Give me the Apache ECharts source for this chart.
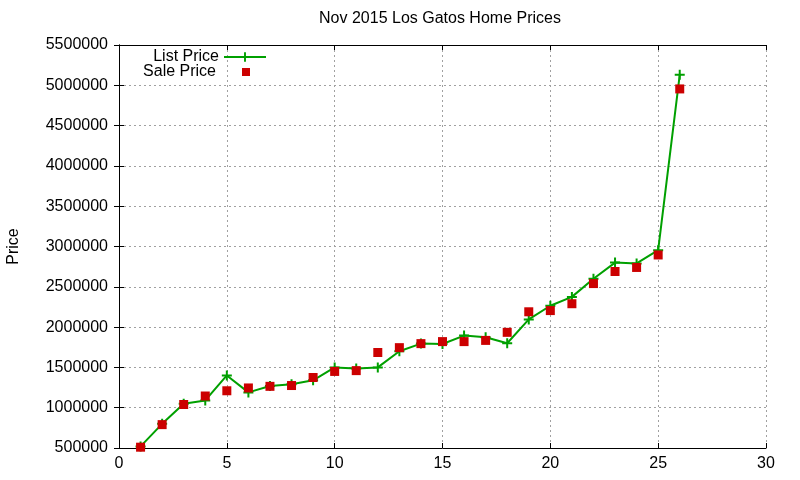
<!DOCTYPE html>
<html>
<head>
<meta charset="utf-8">
<script src="https://cdn.jsdelivr.net/npm/echarts@6/dist/echarts.min.js"></script>
<style>
  html, body { margin: 0; padding: 0; background: #fff; }
  #chart { width: 800px; height: 480px; }
</style>
</head>
<body>
<div id="chart"></div>
<script>
// house number along the x axis
var houseIndex = [1, 2, 3, 4, 5, 6, 7, 8, 9, 10, 11, 12, 13, 14, 15, 16, 17, 18, 19, 20, 21, 22, 23, 24, 25, 26]
var listPrice = [520000, 800000, 1050000, 1090000, 1400000, 1190000, 1270000, 1290000, 1340000, 1500000,
  1485000, 1500000, 1700000, 1795000, 1790000, 1895000, 1875000, 1800000, 2095000, 2265000,
  2375000, 2600000, 2800000, 2790000, 2955000, 5130000]
var salePrice = [510000, 790000, 1040000, 1145000, 1210000, 1245000, 1265000, 1275000, 1375000, 1450000,
  1460000, 1685000, 1745000, 1795000, 1820000, 1820000, 1835000, 1935000, 2190000, 2205000,
  2290000, 2540000, 2690000, 2740000, 2895000, 4955000]
var xTicks = { min: 0, max: 30, interval: 5 }
var yTicks = { min: 500000, max: 5500000, interval: 500000 }

function pairs (xs, ys) {
  return xs.map(function (x, i) { return [x, ys[i]] })
}

var font = 'Liberation Sans, Arial, sans-serif'
var plus = 'path://M4,0h2v4h4v2h-4v4h-2v-4h-4v-2h4z'
var gridLine = { show: true, lineStyle: { color: '#a0a0a0', type: [2, 3], width: 1 } }
var border = { show: true, lineStyle: { color: '#000', width: 1 } }
var tick = { show: true, inside: true, length: 5, lineStyle: { color: '#000' } }

var chart = echarts.init(document.getElementById('chart'))
chart.setOption({
  animation: false,
  backgroundColor: '#fff',
  title: {
    text: 'Nov 2015 Los Gatos Home Prices',
    left: 440,
    textAlign: 'center',
    top: 11,
    padding: 0,
    textStyle: { fontFamily: font, fontSize: 16, fontWeight: 'normal', color: '#000' }
  },
  legend: [{
    data: ['List Price'],
    right: 533,
    top: 49,
    padding: 0,
    align: 'right',
    itemWidth: 42,
    itemHeight: 12,
    selectedMode: false,
    textStyle: { fontFamily: font, fontSize: 16, color: '#000' }
  }, {
    data: ['Sale Price'],
    right: 550,
    top: 64,
    padding: 0,
    align: 'right',
    itemWidth: 8,
    itemHeight: 8,
    selectedMode: false,
    textStyle: { fontFamily: font, fontSize: 16, color: '#000', padding: [0, 21, 0, 0] }
  }],
  grid: { left: 119, right: 34, top: 45, bottom: 32, outerBoundsMode: 'none' },
  xAxis: [{
    type: 'value',
    min: xTicks.min,
    max: xTicks.max,
    interval: xTicks.interval,
    axisLine: border,
    axisTick: tick,
    splitLine: gridLine,
    axisLabel: { margin: 8, color: '#000', fontFamily: font, fontSize: 16 }
  }, {
    type: 'value',
    position: 'top',
    min: xTicks.min,
    max: xTicks.max,
    interval: xTicks.interval,
    axisLine: border,
    axisTick: tick,
    splitLine: { show: false },
    axisLabel: { show: false }
  }],
  yAxis: [{
    type: 'value',
    min: yTicks.min,
    max: yTicks.max,
    interval: yTicks.interval,
    name: 'Price',
    nameLocation: 'middle',
    nameGap: 97,
    nameTextStyle: { color: '#000', fontFamily: font, fontSize: 16 },
    axisLine: border,
    axisTick: tick,
    splitLine: gridLine,
    axisLabel: {
      margin: 11,
      color: '#000',
      fontFamily: font,
      fontSize: 16,
      formatter: function (v) { return String(v) }
    }
  }, {
    type: 'value',
    position: 'right',
    min: yTicks.min,
    max: yTicks.max,
    interval: yTicks.interval,
    axisLine: border,
    axisTick: tick,
    splitLine: { show: false },
    axisLabel: { show: false }
  }],
  series: [{
    name: 'List Price',
    type: 'line',
    data: pairs(houseIndex, listPrice),
    symbol: plus,
    symbolSize: 10,
    showAllSymbol: true,
    color: '#00a000',
    lineStyle: { color: '#00a000', width: 2 },
    itemStyle: { color: '#00a000' },
    z: 2
  }, {
    name: 'Sale Price',
    type: 'scatter',
    data: pairs(houseIndex, salePrice),
    symbol: 'rect',
    symbolSize: 9,
    color: '#cc0000',
    itemStyle: { color: '#cc0000', opacity: 1 },
    z: 3
  }]
})
</script>
</body>
</html>
